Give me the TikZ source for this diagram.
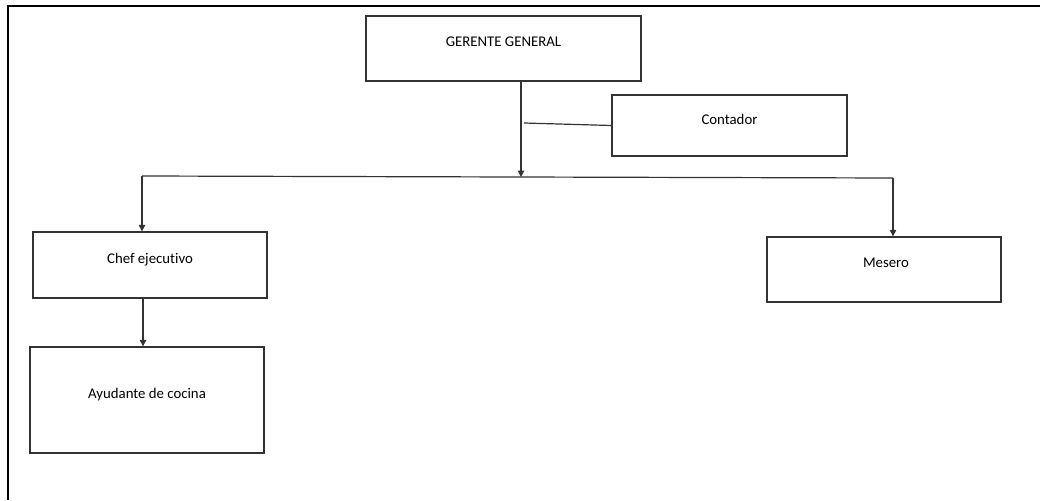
\documentclass[tikz,border=0pt]{standalone}
\usepackage{fontspec}
\setmainfont[Ligatures=NoCommon]{Carlito}
\usetikzlibrary{arrows.meta,calc}
\begin{document}
\begin{tikzpicture}[x=1pt,y=-1pt,
  box/.style={draw=black!80,line width=1.3pt,rectangle,inner sep=0pt},
  lbl/.style={font=\fontsize{14.8}{17}\selectfont,text=black,inner sep=0pt},
  conn/.style={draw=black!80,line width=1.2pt},
  arr/.style={conn,-{Triangle[length=6.5pt,width=6.5pt]}},
  frame/.style={draw=black,line width=2pt}]
\useasboundingbox (0,0) rectangle (1040,500);
% outer frame (top and left only)
\coordinate (ftr) at (1040,6);
\coordinate (ftl) at (8,6);
\coordinate (fbl) at (8,500);
\draw[frame] (ftr) -- (ftl) -- (fbl);
% boxes
\node[box,minimum width=275pt,minimum height=65pt] (gg) at (503.5,48.5) {};
\node[lbl] (ggt) at (503.5,42) {GERENTE GENERAL};
\node[box,minimum width=235pt,minimum height=61pt] (cont) at (729.5,125.5) {};
\node[lbl] (contt) at (729.5,119) {Contador};
\node[box,minimum width=234pt,minimum height=66pt] (chef) at (150,265) {};
\node[lbl] (cheft) at (150,260) {Chef ejecutivo};
\node[box,minimum width=234pt,minimum height=65pt] (mes) at (884,269.5) {};
\node[lbl] (mest) at (886,263) {Mesero};
\node[box,minimum width=234pt,minimum height=106pt] (ayu) at (147,400) {};
\node[lbl] (ayut) at (147,395) {Ayudante de cocina};
% junctions
\coordinate (j) at (521,177);
\coordinate (jl) at (142,176);
\coordinate (jr) at (893,178);
\coordinate (cj) at (524,123);
\coordinate (ca) at (143,0);
% connectors
\draw[arr] (gg.south -| j) -- (j);
\draw[conn] (cj) -- (cont.west);
\draw[conn] (jl) -- (jr);
\draw[arr] (jl) -- (jl |- chef.north);
\draw[arr] (jr) -- (jr |- mes.north);
\draw[arr] (chef.south -| ca) -- (ayu.north -| ca);
\end{tikzpicture}
\end{document}
